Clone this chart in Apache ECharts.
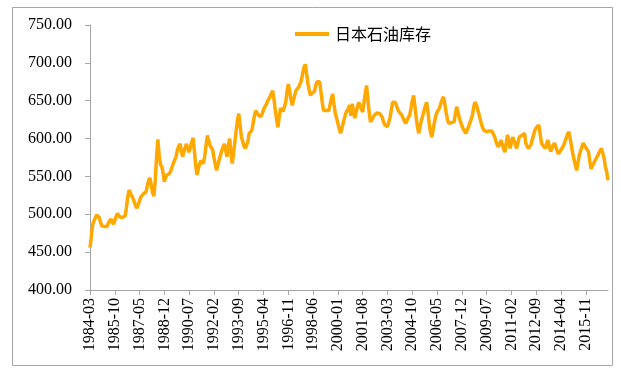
<!DOCTYPE html>
<html>
<head>
<meta charset="utf-8">
<script src="https://cdn.jsdelivr.net/npm/echarts@6/dist/echarts.min.js"></script>
<style>html,body{margin:0;padding:0;background:#fff;}#c{width:621px;height:371px;}</style>
</head>
<body>
<div id="c"></div>
<script>
var seriesName = '日本石油库存';
var startYear = 1984, startMonth = 3;
var yTicks = {min: 400, max: 750, interval: 50};
var stock = [
456,470,486,491,495,499,501,496,490,485,483,484,482,484,488,491,494,490,487,492,
497,501,499,496,495,496,497,498,510,524,532,528,524,521,516,511,508,513,518,523,
525,527,528,530,538,545,548,538,528,524,545,575,599,578,566,563,555,543,549,552,
553,554,558,563,568,572,576,585,590,593,584,576,583,589,593,586,582,589,595,601,
584,565,552,560,566,571,569,567,578,592,604,597,591,588,585,575,566,558,565,572,
578,584,589,593,584,576,590,600,582,567,580,595,610,624,633,618,603,596,590,587,
585,596,607,609,611,620,630,637,634,631,630,629,633,638,642,645,649,652,655,660,
663,652,638,625,615,628,640,638,636,635,648,662,672,663,652,644,651,658,664,666,
668,670,677,686,694,698,686,673,664,657,660,661,662,670,675,676,675,662,648,637,
636,637,638,637,645,653,659,645,633,627,620,613,607,613,620,627,633,637,640,644,
630,646,636,627,635,642,648,643,639,635,648,660,670,651,634,622,625,628,631,633,
634,632,633,633,628,622,618,617,616,618,628,639,648,646,648,643,638,635,633,631,
627,623,620,624,628,631,640,650,657,643,628,615,607,616,624,630,637,643,648,635,
620,608,602,612,622,630,635,635,641,647,652,655,645,634,625,620,621,621,622,622,
632,642,635,628,622,617,613,610,607,611,615,620,620,630,641,648,645,639,633,626,
619,614,611,610,609,608,610,608,610,609,603,597,592,589,593,598,592,587,582,594,
605,596,587,595,602,597,592,587,595,602,604,604,606,607,594,590,587,585,592,599,
605,611,614,616,618,606,594,591,589,587,593,598,590,583,587,591,594,589,584,580,
582,585,588,591,596,601,606,609,600,590,580,572,565,558,568,578,584,589,594,591,
588,586,583,571,560,564,567,571,574,577,581,584,587,585,574,563,556,545
];
var months = [];
(function(){
  var y = startYear, m = startMonth;
  for (var i = 0; i < stock.length; i++) {
    months.push(y + '-' + (m < 10 ? '0' + m : '' + m));
    m++; if (m > 12) { m = 1; y++; }
  }
})();

var chart = echarts.init(document.getElementById('c'), null, {renderer: 'canvas'});
var axisGray = '#A6A6A6';
var serif = '"Liberation Serif", "Times New Roman", serif';
chart.setOption({
  animation: false,
  backgroundColor: '#fff',
  graphic: [{
    type: 'rect', silent: true,
    shape: {x: 12.5, y: 7.5, width: 600, height: 358},
    style: {fill: 'none', stroke: axisGray, lineWidth: 1}
  }],
  legend: {
    data: [seriesName],
    left: 290, top: 21,
    itemWidth: 34, itemHeight: 4, itemGap: 10,
    icon: 'rect',
    textStyle: {fontFamily: '"Noto Sans CJK SC", sans-serif', fontSize: 16, color: '#000', padding: [0, 0, 0, 1]}
  },
  grid: {left: 90, right: 13, top: 25, bottom: 81, containLabel: false, outerBoundsMode: 'none'},
  xAxis: {
    type: 'category',
    data: months,
    boundaryGap: false,
    axisLine: {lineStyle: {color: axisGray, width: 1}},
    axisTick: {show: true, interval: 18, length: 5, lineStyle: {color: axisGray}},
    axisLabel: {interval: 18, rotate: 90, margin: 8, fontFamily: serif, fontSize: 16, color: '#000'},
    splitLine: {show: false}
  },
  yAxis: {
    type: 'value',
    min: yTicks.min, max: yTicks.max, interval: yTicks.interval,
    axisLine: {show: true, lineStyle: {color: axisGray, width: 1}},
    axisTick: {show: true, length: 5, lineStyle: {color: axisGray}},
    axisLabel: {margin: 18, fontFamily: serif, fontSize: 16, color: '#000',
      formatter: function(v){ return v.toFixed(2); }},
    splitLine: {show: false}
  },
  series: [{
    name: seriesName,
    type: 'line',
    data: stock,
    symbol: 'none',
    smooth: false,
    lineStyle: {color: '#FFA800', width: 3.5},
    itemStyle: {color: '#FFA800'}
  }]
});
</script>
</body>
</html>
